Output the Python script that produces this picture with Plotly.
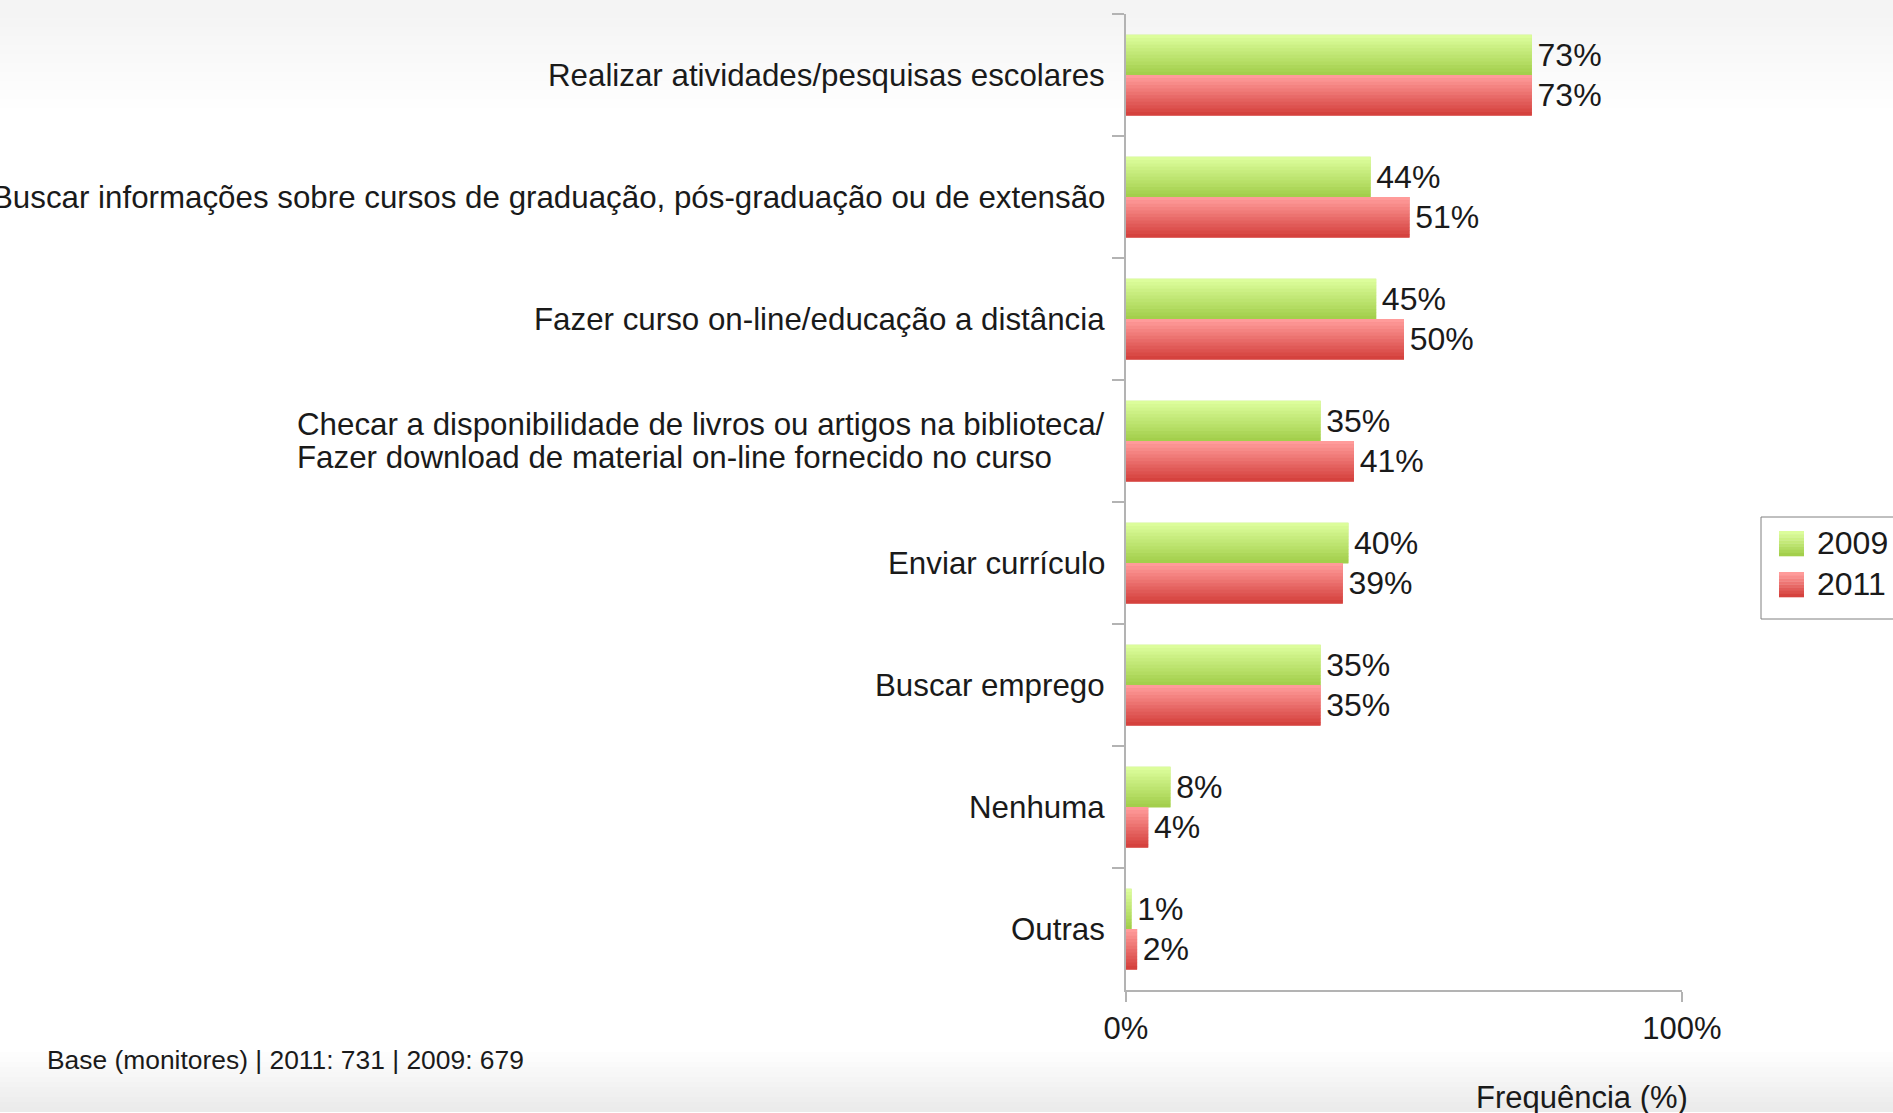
import plotly.graph_objects as go

# data
categories = [
    "Realizar atividades/pesquisas escolares",
    "Buscar informações sobre cursos de graduação, pós-graduação ou de extensão",
    "Fazer curso on-line/educação a distância",
    "Checar a disponibilidade de livros ou artigos na biblioteca/<br>Fazer download de material on-line fornecido no curso",
    "Enviar currículo",
    "Buscar emprego",
    "Nenhuma",
    "Outras",
]
years = ["2009", "2011"]
freq_2009 = [73, 44, 45, 35, 40, 35, 8, 1]
freq_2011 = [73, 51, 50, 41, 39, 35, 4, 2]
x_ticks = [0, 100]
x_ticktext = ["0%", "100%"]

W, H = 1893, 1113
ML, MR, MT, MB = 1126, 211, 14, 123
FONT = "Liberation Sans, Arial, sans-serif"
TXT = "#1a1a1a"
AXIS = "#b3b3b3"
HIDE = '<span style="color:rgba(0,0,0,0)">%s</span>'

# top / bottom colour of the bar gradients
grad = {
    "2009": ((0xdc, 0xfd, 0x9b), (0xa3, 0xcf, 0x4c)),
    "2011": ((0xff, 0x9b, 0x9a), (0xd5, 0x42, 0x3e)),
}
bar_w = 0.33
offsets = {"2009": -bar_w, "2011": 0.0}
N_SLICES = 12

plot_w = W - ML - MR
plot_h = H - MT - MB


def px(pix):
    return (pix - ML) / plot_w


def py(pix):
    return (H - MB - pix) / plot_h


def mix(c0, c1, t):
    return "rgb(%d,%d,%d)" % tuple(round(a + (b - a) * t) for a, b in zip(c0, c1))


fig = go.Figure()

# base bars: carry the value labels
for year, vals in zip(years, [freq_2009, freq_2011]):
    top, bot = grad[year]
    fig.add_trace(go.Bar(
        name=year, y=categories, x=vals, orientation="h",
        width=bar_w, offset=offsets[year],
        marker=dict(color=mix(top, bot, 0.5), line=dict(width=0)),
        text=[f"\u200a{v}%" for v in vals], textposition="outside",
        textfont=dict(size=32, color=TXT, family=FONT),
        cliponaxis=False, constraintext="none", hoverinfo="skip",
        showlegend=False,
    ))

# thin slices on top to imitate the vertical gradient of each bar
for year, vals in zip(years, [freq_2009, freq_2011]):
    top, bot = grad[year]
    step = bar_w / N_SLICES
    for k in range(N_SLICES):
        fig.add_trace(go.Bar(
            y=categories, x=vals, orientation="h",
            width=step * 1.15, offset=offsets[year] + k * step,
            marker=dict(color=mix(top, bot, k / (N_SLICES - 1)), line=dict(width=0)),
            showlegend=False, hoverinfo="skip",
        ))

# category labels (left aligned lines, right anchored block)
cat_font = dict(size=31.3, color=TXT, family=FONT)
for cat in categories:
    lines = cat.split("<br>")
    if len(lines) == 1:
        fig.add_annotation(
            x=0, y=cat, xref="x", yref="y", text=cat, showarrow=False,
            xanchor="right", yanchor="middle", xshift=-19, font=cat_font,
        )
    else:
        # two stacked copies, each showing one line, to tighten the spacing
        first = lines[0] + "<br>" + HIDE % lines[1]
        second = HIDE % lines[0] + "<br>" + lines[1]
        for txt, ys in [(first, -3.5), (second, 4)]:
            fig.add_annotation(
                x=0, y=cat, xref="x", yref="y", text=txt, showarrow=False,
                xanchor="right", yanchor="middle", align="left",
                xshift=-19, yshift=ys, font=cat_font,
            )

# faint grey gradient bands at top and bottom of the page
for i in range(12):
    a = 0.045 * (1 - i / 12)
    fig.add_shape(type="rect", xref="paper", yref="paper", x0=-3, x1=3,
                  y0=py(i * 9 + 9), y1=py(i * 9), layer="below",
                  line=dict(width=0), fillcolor=f"rgba(0,0,0,{a:.4f})")
for i in range(12):
    a = 0.08 * (i + 1) / 12
    fig.add_shape(type="rect", xref="paper", yref="paper", x0=-3, x1=3,
                  y0=py(1052 + i * 5 + 5), y1=py(1052 + i * 5), layer="below",
                  line=dict(width=0), fillcolor=f"rgba(0,0,0,{a:.4f})")

# legend box with gradient swatches
fig.add_shape(type="rect", xref="paper", yref="paper",
              x0=px(1761), x1=px(1910), y0=py(619), y1=py(517),
              line=dict(color="#808080", width=1), fillcolor="white")
for year, (top_pix, text_pix) in zip(years, [(531, 543), (572, 584)]):
    top, bot = grad[year]
    n = 8
    for k in range(n):
        fig.add_shape(type="rect", xref="paper", yref="paper",
                      x0=px(1779), x1=px(1804),
                      y0=py(top_pix + (k + 1) * 25 / n + 0.3), y1=py(top_pix + k * 25 / n),
                      line=dict(width=0), fillcolor=mix(top, bot, k / (n - 1)))
    fig.add_annotation(
        x=px(1815), y=py(text_pix), xref="paper", yref="paper", text=year,
        showarrow=False, xanchor="left", yanchor="middle",
        font=dict(size=32, color=TXT, family=FONT),
    )

fig.add_annotation(
    x=px(1582), y=py(1097), xref="paper", yref="paper",
    text="Frequência (%)", showarrow=False, xanchor="center", yanchor="middle",
    font=dict(size=31, color=TXT, family=FONT),
)
fig.add_annotation(
    x=px(45), y=py(1060), xref="paper", yref="paper",
    text="Base (monitores) | 2011: 731 | 2009: 679", showarrow=False,
    xanchor="left", yanchor="middle",
    font=dict(size=26.4, color=TXT, family=FONT),
)

fig.update_layout(
    width=W, height=H,
    margin=dict(l=ML, r=MR, t=MT, b=MB, autoexpand=False),
    barmode="overlay", showlegend=False,
    paper_bgcolor="white", plot_bgcolor="rgba(0,0,0,0)",
    font=dict(family=FONT, color=TXT, size=31),
    xaxis=dict(
        range=[0, 100], tickvals=x_ticks, ticktext=x_ticktext,
        showline=True, linecolor=AXIS, linewidth=1.5,
        ticks="outside", ticklen=10, tickcolor=AXIS, tickwidth=1.5,
        showgrid=False, zeroline=False,
        tickfont=dict(size=31, color=TXT, family=FONT),
    ),
    yaxis=dict(
        autorange="reversed", showticklabels=False,
        showline=True, linecolor=AXIS, linewidth=1.5,
        ticks="outside", ticklen=12, tickcolor=AXIS, tickwidth=1.5,
        tickson="boundaries", showgrid=False, zeroline=False,
    ),
)

fig.write_html("out.html", config={"displayModeBar": False},
               post_script="document.body.style.margin='0';")
